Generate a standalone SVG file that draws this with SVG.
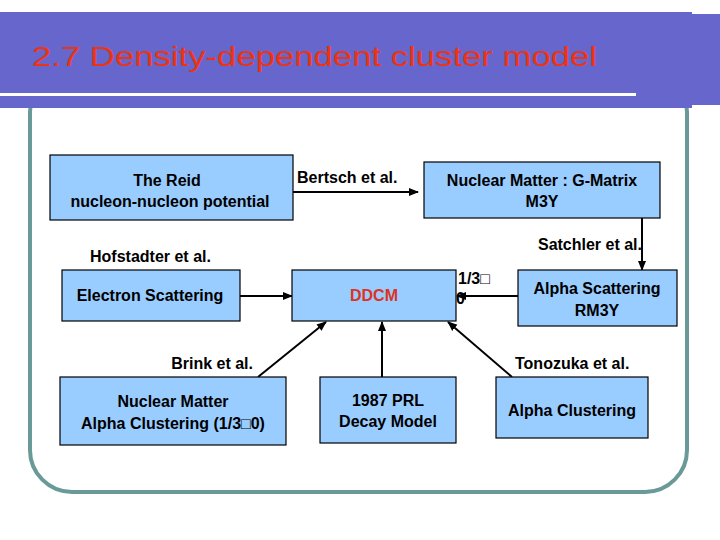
<svg xmlns="http://www.w3.org/2000/svg" width="720" height="540" viewBox="0 0 720 540">
<defs>
<style>
.box{fill:#99ccff;stroke:#000;stroke-width:1.2}
.t{font-family:"Liberation Sans",Arial,sans-serif;font-weight:bold;font-size:16px;fill:#000}
.c{text-anchor:middle}
.ln{stroke:#000;stroke-width:2;fill:none}
</style>
<marker id="ah" viewBox="0 0 10 10" refX="9" refY="5" markerWidth="5" markerHeight="5" orient="auto"><path d="M0,1 L10,5 L0,9 z" fill="#000"/></marker>
</defs>
<rect width="720" height="540" fill="#fff"/>
<rect x="30" y="70" width="657" height="422" rx="42" fill="none" stroke="#6a9a98" stroke-width="4"/>
<g id="header">
<rect x="0" y="12" width="692" height="96" fill="#6666cc"/>
<rect x="636" y="14" width="84" height="91" fill="#6666cc"/>
<rect x="0" y="93" width="636" height="3" fill="#fff"/>
<text x="32" y="66" font-family="Liberation Sans,Arial,sans-serif" font-size="28" fill="#ee3311" textLength="565" lengthAdjust="spacingAndGlyphs">2.7  Density-dependent cluster model</text>
</g>
<g id="connectors">
<line class="ln" x1="293" y1="192" x2="418" y2="192" marker-end="url(#ah)"/>
<line class="ln" x1="642" y1="218" x2="642" y2="270" marker-end="url(#ah)"/>
<line class="ln" x1="518" y1="296" x2="457" y2="296" marker-end="url(#ah)"/>
<line class="ln" x1="240" y1="296" x2="292" y2="296" marker-end="url(#ah)"/>
<line class="ln" x1="258" y1="377" x2="326" y2="322" marker-end="url(#ah)"/>
<line class="ln" x1="382" y1="377" x2="382" y2="322" marker-end="url(#ah)"/>
<line class="ln" x1="512" y1="377" x2="448" y2="322" marker-end="url(#ah)"/>
<text class="t" x="297" y="183">Bertsch et al.</text>
<text class="t" x="642" y="250" text-anchor="end">Satchler et al.</text>
<text class="t" x="90" y="262">Hofstadter et al.</text>
<text class="t" x="458" y="284">1/3□</text>
<text class="t" x="456" y="304" font-size="11">0</text>
<text class="t" x="253" y="369" text-anchor="end">Brink et al.</text>
<text class="t" x="515" y="369">Tonozuka et al.</text>
</g>
<g id="reid"><rect class="box" x="50" y="155" width="243" height="65"/><text class="t c" x="167" y="186">The Reid</text><text class="t c" x="170" y="207">nucleon-nucleon potential</text></g>
<g id="gmatrix"><rect class="box" x="424" y="162" width="236" height="56"/><text class="t c" x="542" y="186">Nuclear Matter : G-Matrix</text><text class="t c" x="542" y="207">M3Y</text></g>
<g id="electron"><rect class="box" x="62" y="270" width="178" height="51"/><text class="t c" x="150" y="301">Electron Scattering</text></g>
<g id="ddcm"><rect class="box" x="292" y="270" width="164" height="51"/><text class="t c" x="374" y="301" fill="#dd3322" style="fill:#dd3322">DDCM</text></g>
<g id="alphascat"><rect class="box" x="518" y="270" width="159" height="56"/><text class="t c" x="597" y="294">Alpha  Scattering</text><text class="t c" x="597" y="316">RM3Y</text></g>
<g id="nmalpha"><rect class="box" x="60" y="377" width="226" height="68"/><text class="t c" x="173" y="407">Nuclear Matter</text><text class="t c" x="173" y="429">Alpha Clustering (1/3□0)</text></g>
<g id="prl"><rect class="box" x="320" y="377" width="136" height="66"/><text class="t c" x="388" y="406">1987 PRL</text><text class="t c" x="388" y="427">Decay Model</text></g>
<g id="alphaclus"><rect class="box" x="496" y="377" width="152" height="61"/><text class="t c" x="572" y="416">Alpha Clustering</text></g>
</svg>
